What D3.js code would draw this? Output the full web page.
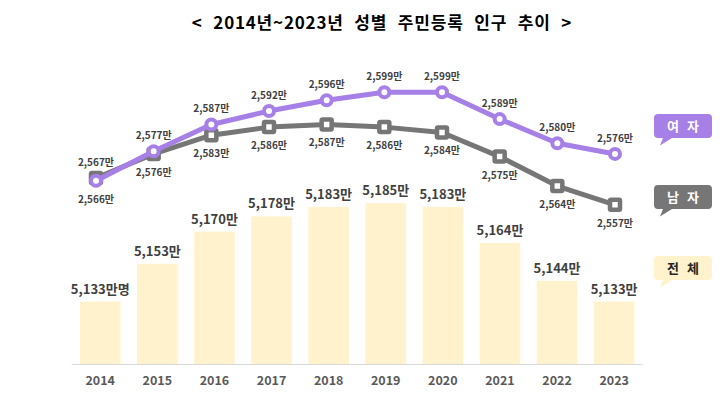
<!DOCTYPE html>
<html>
<head>
<meta charset="utf-8">
<script src="https://cdn.jsdelivr.net/npm/d3@7"></script>
<style>
  body { margin: 0; background: #fff; }
  svg { display: block; font-family: "Noto Sans CJK KR", "Noto Sans", sans-serif; }
</style>
</head>
<body>
<svg id="chart" width="726" height="396"></svg>
<script>
const years = ['2014', '2015', '2016', '2017', '2018', '2019', '2020', '2021', '2022', '2023'];
const total = [5133, 5153, 5170, 5178, 5183, 5185, 5183, 5164, 5144, 5133];
const female = [2566, 2577, 2587, 2592, 2596, 2599, 2599, 2589, 2580, 2576];
const male = [2567, 2576, 2583, 2586, 2587, 2586, 2584, 2575, 2564, 2557];
const legendItems = [
  {key: 'female', label: '여 자'},
  {key: 'male', label: '남 자'},
  {key: 'total', label: '전 체'}
];

const colors = {female: '#a680e6', male: '#767676', total: '#fff2cc'};
const fmt = d3.format(',');

const svg = d3.select('#chart');

svg.append('text')
   .attr('x', 382).attr('y', 29)
   .attr('text-anchor', 'middle')
   .attr('font-size', 17).attr('font-weight', 'bold')
   .attr('fill', '#000')
   .attr('letter-spacing', 0.8)
   .attr('word-spacing', 6)
   .text('< 2014년~2023년 성별 주민등록 인구 추이 >');

// bars (total)
const xBand = d3.scaleBand()
                .domain(years)
                .range([71.7, 642.7])
                .paddingInner(0.29)
                .paddingOuter(0.145);
const yBar = d3.scaleLinear().domain([5100, 5200]).range([364, 174.8]);

svg.append('g')
   .selectAll('rect')
   .data(years)
   .join('rect')
   .attr('x', d => xBand(d))
   .attr('width', xBand.bandwidth())
   .attr('y', (d, i) => yBar(total[i]))
   .attr('height', (d, i) => yBar(5100) - yBar(total[i]))
   .attr('fill', colors.total);

svg.append('line')
   .attr('x1', xBand.range()[0]).attr('x2', xBand.range()[1])
   .attr('y1', 364.5).attr('y2', 364.5)
   .attr('stroke', '#d9d9d9');

svg.append('g')
   .selectAll('text')
   .data(years)
   .join('text')
   .attr('x', d => xBand(d) + xBand.bandwidth() / 2)
   .attr('y', 385)
   .attr('text-anchor', 'middle')
   .attr('font-size', 12.5).attr('font-weight', 'bold')
   .attr('fill', '#595959')
   .text(d => d);

svg.append('g')
   .selectAll('text')
   .data(years)
   .join('text')
   .attr('x', d => xBand(d) + xBand.bandwidth() / 2)
   .attr('y', (d, i) => yBar(total[i]) - 8)
   .attr('text-anchor', 'middle')
   .attr('font-size', 13).attr('font-weight', 'bold')
   .attr('fill', '#404040')
   .text((d, i) => fmt(total[i]) + (i === 0 ? '만명' : '만'));

// lines (female / male)
const xPoint = d3.scalePoint().domain(years).range([96, 615]);
const yLine = d3.scaleLinear().domain([2550, 2600]).range([223.6, 89.6]);
const line = d3.line()
               .x((d, i) => xPoint(years[i]))
               .y(d => yLine(d));

function drawSeries(values, color, marker) {
  const g = svg.append('g');
  g.append('path')
   .datum(values)
   .attr('d', line)
   .attr('fill', 'none')
   .attr('stroke', color)
   .attr('stroke-width', 5)
   .attr('stroke-linejoin', 'round');
  if (marker === 'square') {
    g.selectAll('rect')
     .data(values)
     .join('rect')
     .attr('x', (d, i) => xPoint(years[i]) - 5)
     .attr('y', d => yLine(d) - 5)
     .attr('width', 10).attr('height', 10)
     .attr('rx', 1)
     .attr('fill', '#fff')
     .attr('stroke', color)
     .attr('stroke-width', 4.5);
  } else {
    g.selectAll('circle')
     .data(values)
     .join('circle')
     .attr('cx', (d, i) => xPoint(years[i]))
     .attr('cy', d => yLine(d))
     .attr('r', 5)
     .attr('fill', '#fff')
     .attr('stroke', color)
     .attr('stroke-width', 4);
  }
}

drawSeries(male, colors.male, 'square');
drawSeries(female, colors.female, 'circle');

// labels: female above, male below (reversed in 2014 where male > female)
function drawLabels(values, other) {
  svg.append('g')
     .selectAll('text')
     .data(values)
     .join('text')
     .attr('x', (d, i) => xPoint(years[i]))
     .attr('y', (d, i) => d >= other[i] ? yLine(d) - 12 : yLine(d) + 22)
     .attr('text-anchor', 'middle')
     .attr('font-size', 10).attr('font-weight', 'bold')
     .attr('fill', '#404040')
     .text(d => fmt(d) + '만');
}
drawLabels(female, male);
drawLabels(male, female);

// legend bubbles
const legendY = d3.scalePoint().domain(['female', 'male', 'total']).range([114, 256]);
const bubble = (x, y, w, h, r) => {
  const p = d3.path();
  p.moveTo(x + r, y);
  p.lineTo(x + w - r, y);
  p.quadraticCurveTo(x + w, y, x + w, y + r);
  p.lineTo(x + w, y + h - r);
  p.quadraticCurveTo(x + w, y + h, x + w - r, y + h);
  p.lineTo(x + 18, y + h);
  p.lineTo(x + 6, y + h + 7.5);
  p.lineTo(x + 9, y + h);
  p.lineTo(x + r, y + h);
  p.quadraticCurveTo(x, y + h, x, y + h - r);
  p.lineTo(x, y + r);
  p.quadraticCurveTo(x, y, x + r, y);
  p.closePath();
  return p.toString();
};

const legend = svg.append('g')
                  .selectAll('g')
                  .data(legendItems)
                  .join('g')
                  .attr('transform', d => `translate(654, ${legendY(d.key)})`);
legend.append('path')
      .attr('d', bubble(0, 0, 58, 24, 4))
      .attr('fill', d => colors[d.key]);
legend.append('text')
      .attr('x', 29).attr('y', 17)
      .attr('text-anchor', 'middle')
      .attr('font-size', 13).attr('font-weight', 'bold')
      .attr('word-spacing', 5)
      .attr('fill', d => d.key === 'total' ? '#262626' : '#fff')
      .text(d => d.label);
</script>
</body>
</html>
